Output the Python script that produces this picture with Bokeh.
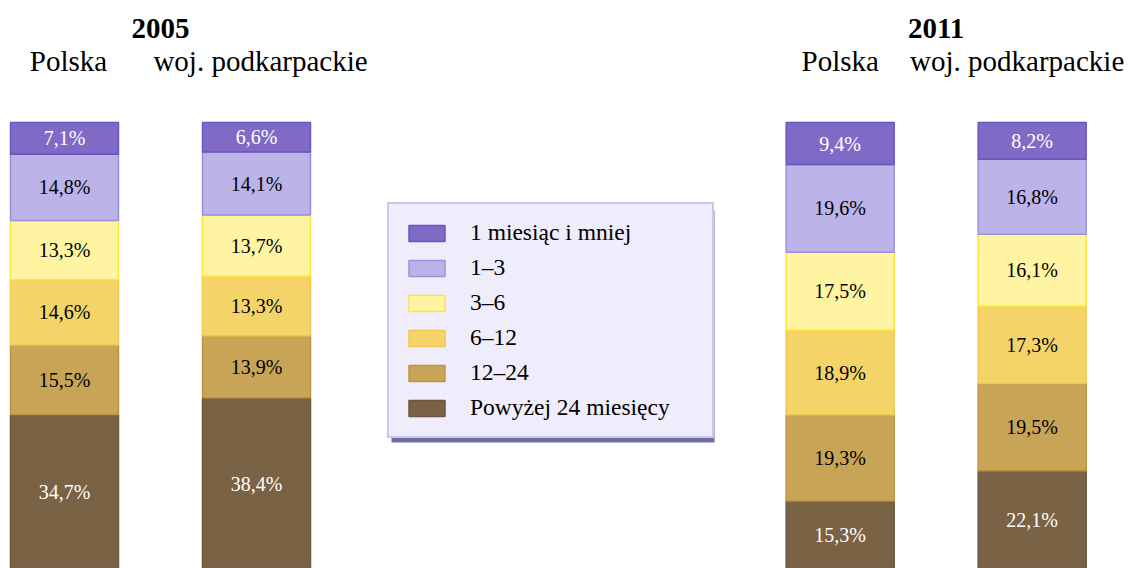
from bokeh.plotting import figure
from bokeh.models import (ColumnDataSource, Range1d, Legend,
                          LegendItem, BoxAnnotation, LabelSet)
from bokeh.core.properties import value
from bokeh.embed import file_html
from bokeh.resources import INLINE

# ---------------- data ----------------
years = ["2005", "2011"]
regions = ["Polska", "woj. podkarpackie"]
# duration categories, listed top of the bar -> bottom of the bar
categories = ["1 miesiąc i mniej", "1\u20133", "3\u20136", "6\u201312",
              "12\u201324", "Powyżej 24 miesięcy"]
polska_2005 = [7.1, 14.8, 13.3, 14.6, 15.5, 34.7]
podkarpackie_2005 = [6.6, 14.1, 13.7, 13.3, 13.9, 38.4]
polska_2011 = [9.4, 19.6, 17.5, 18.9, 19.3, 15.3]
podkarpackie_2011 = [8.2, 16.8, 16.1, 17.3, 19.5, 22.1]

# ---------------- styles / layout ----------------
fills = ["#7f6bc6", "#bcb3e9", "#fff4a2", "#f4d468", "#c8a456", "#7a6244"]
edges = ["#6a55c0", "#9d8fe0", "#ffe440", "#f0c84e", "#bd9442", "#6b5741"]
label_colors = ["white", "black", "black", "black", "black", "white"]
FONT = "Liberation Serif"

W, H = 1128, 568
PX_PER_PCT = 4.47      # vertical scale
TOP_PX = 122           # pixel row of the 100 % line
SLOT_PX = 192          # pixels between the two bars of one year
GROUP_STEP = 4.04      # slots between the two year groups
FIRST_PX = 64          # pixel column of the first bar centre
BAR_W = 0.5625         # bar width in slots
TOTAL = 100.0

series = [polska_2005, podkarpackie_2005, polska_2011, podkarpackie_2011]
bar_region = [r for y in years for r in regions]
bar_x = [g * GROUP_STEP + k for g in range(len(years)) for k in range(len(regions))]

data = {"x": bar_x}
for i, cat in enumerate(categories):
    data[cat] = [s[i] for s in series]
src = ColumnDataSource(data)

x_start = -FIRST_PX / SLOT_PX
x_range = Range1d(x_start, x_start + W / SLOT_PX)
y_range = Range1d(TOTAL - (H - TOP_PX) / PX_PER_PCT, TOTAL + TOP_PX / PX_PER_PCT)

p = figure(width=W, height=H, x_range=x_range, y_range=y_range,
           output_backend="svg", toolbar_location=None,
           x_axis_location=None, y_axis_location=None,
           min_border_left=0, min_border_right=0,
           min_border_top=0, min_border_bottom=0)
p.outline_line_color = None
p.xgrid.visible = False
p.ygrid.visible = False
p.background_fill_color = "white"
p.border_fill_color = "white"

stackers = list(reversed(categories))
renderers = p.vbar_stack(stackers, x="x", width=BAR_W, source=src,
                         fill_color=list(reversed(fills)),
                         line_color=list(reversed(edges)),
                         line_width=1.5)
rmap = dict(zip(stackers, renderers))

# value labels
lx, ly, lt, lc = [], [], [], []
for j, xpos in enumerate(bar_x):
    bottom = 0.0
    for k in reversed(range(len(categories))):
        v = series[j][k]
        lx.append(xpos)
        ly.append(bottom + v / 2)
        lt.append(f"{v:.1f}".replace(".", ",") + "%")
        lc.append(label_colors[k])
        bottom += v
lab_src = ColumnDataSource(dict(x=lx, y=ly, text=lt, color=lc))
p.text(x="x", y="y", text="text", text_color="color", source=lab_src,
       text_align="center", text_baseline="middle",
       text_font=value(FONT), text_font_size="20px")

# headers
header_nudge = [4, 4, 0, -15]
sub_src = ColumnDataSource(dict(x=bar_x, y=[TOTAL] * len(bar_x),
                                text=bar_region, dx=header_nudge))
p.add_layout(LabelSet(x="x", y="y", text="text", source=sub_src,
                      x_offset="dx", y_offset=52,
                      text_align="center", text_baseline="alphabetic",
                      text_font=value(FONT), text_font_size="29px",
                      text_color="black"))
grp_x = [g * GROUP_STEP + (len(regions) - 1) / 2 for g in range(len(years))]
grp_src = ColumnDataSource(dict(x=grp_x, y=[TOTAL] * len(years), text=years))
p.add_layout(LabelSet(x="x", y="y", text="text", source=grp_src,
                      y_offset=85,
                      text_align="center", text_baseline="alphabetic",
                      text_font=value(FONT), text_font_size="29px",
                      text_font_style="bold", text_color="black"))

# legend shadow + legend
shadow = BoxAnnotation(left=391, right=714, top=210, bottom=442,
                       left_units="canvas", right_units="canvas",
                       top_units="canvas", bottom_units="canvas",
                       fill_color="#6e6ea0", fill_alpha=1.0, line_color=None)
p.add_layout(shadow)

legend = Legend(items=[LegendItem(label=c, renderers=[rmap[c]]) for c in categories],
                location=(387, 130), margin=0, padding=15, spacing=8,
                glyph_width=45, glyph_height=20, label_height=20,
                label_standoff=21, label_width=227,
                label_text_font=FONT, label_text_font_size="23.5px",
                label_text_color="black",
                background_fill_color="#efedfb", background_fill_alpha=1.0,
                border_line_color="#c9c6f2", border_line_width=2,
                border_line_alpha=1.0)
p.add_layout(legend)

open("out.html", "w").write(file_html(p, INLINE))
